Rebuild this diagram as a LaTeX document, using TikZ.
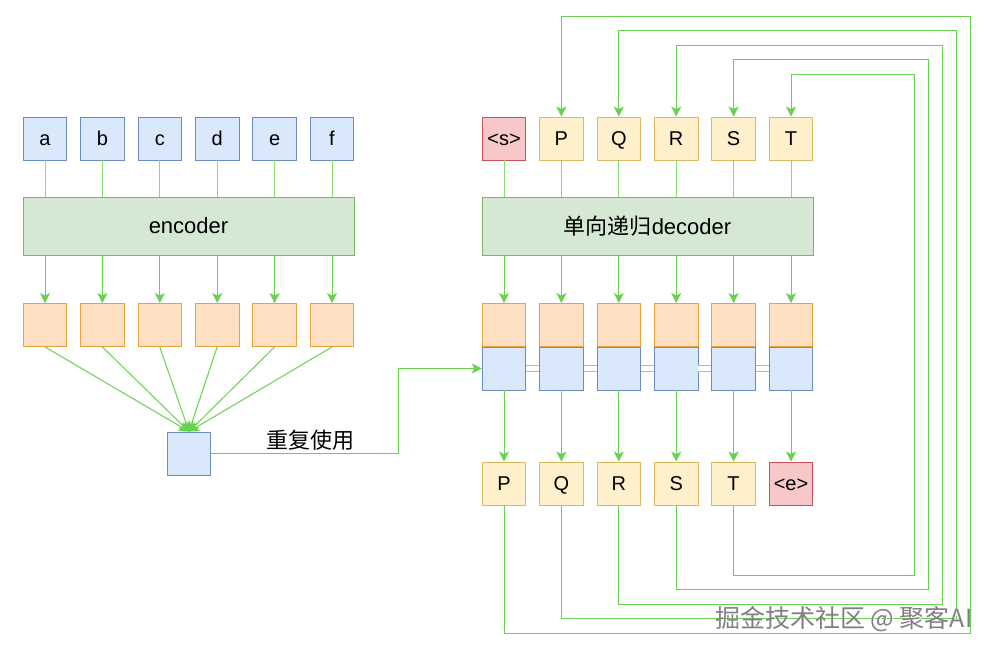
\documentclass[tikz,border=0pt]{standalone}
\usepackage{fontspec}
\setmainfont{Liberation Sans}
\newfontfamily\cjk{Noto Sans CJK SC}
\usetikzlibrary{arrows.meta}
\definecolor{lnk}{HTML}{66D24E}
\definecolor{lnkl}{HTML}{88DA76}
\definecolor{bluef}{HTML}{DAE8FC}\definecolor{blued}{HTML}{6C8EBF}
\definecolor{oraf}{HTML}{FFE0C2}\definecolor{orad}{HTML}{E8A33A}
\definecolor{yelf}{HTML}{FFF0CC}\definecolor{yeld}{HTML}{E0B860}
\definecolor{redf}{HTML}{F8C8C8}\definecolor{redd}{HTML}{D0505A}
\definecolor{grnf}{HTML}{D5E8D4}\definecolor{grnd}{HTML}{82B366}
\begin{document}
\begin{tikzpicture}[x=1pt,y=-1pt,
  box/.style={draw, line width=0.9pt, minimum width=43.5pt, minimum height=43pt, inner sep=0pt, text height=14.3pt, text depth=0pt, font=\fontsize{20}{22}\selectfont},
  bluebox/.style={box, fill=bluef, draw=blued},
  orabox/.style={box, fill=oraf, draw=orad},
  yelbox/.style={box, fill=yelf, draw=yeld},
  redbox/.style={box, fill=redf, draw=redd},
  grnbox/.style={draw=grnd, fill=grnf, line width=0.9pt, minimum width=331pt, minimum height=58pt, inner sep=0pt, font=\fontsize{22}{24}\selectfont},
  plain/.style={draw=lnkl, line width=1pt},
  arr/.style={draw=lnk, line width=1pt, -{Stealth[length=10pt,width=10pt,inset=2.5pt]}},
  dbl/.style={draw=lnkl, line width=0.9pt, double=white, double distance=4.5pt},
  lbl/.style={font=\fontsize{22}{24}\selectfont\cjk}
]
\useasboundingbox (0,0) rectangle (994,651);

% ---------- encoder side ----------
\node[grnbox] (enc) at (188.5,226) {encoder};
\foreach \t [count=\i from 0] in {a,b,c,d,e,f} {
  \node[bluebox] (in\i) at ({45+57.4*\i},138.5) {\t};
  \node[orabox] (eo\i) at ({45+57.4*\i},325) {};
}
\node[bluebox] (hb) at (189,453.5) {};
\foreach \i in {0,...,5} {
  \draw[plain] (in\i.south) -- (in\i.south |- enc.north);
  \draw[arr] (in\i.south |- enc.south) -- (eo\i.north);
  \draw[arr] (eo\i.south) -- (hb.north);
}
\node[lbl] (reuse) at (310,440) {重复使用};

% ---------- decoder side ----------
\node[grnbox] (dec) at (647.5,226) {{\cjk 单向递归}decoder};
\node[redbox] (t0) at (504,138.5) {<s>};
\foreach \t [count=\i from 1] in {P,Q,R,S,T} {
  \node[yelbox] (t\i) at ({504+57.4*\i},138.5) {\t};
}
\foreach \t [count=\i from 0] in {P,Q,R,S,T} {
  \node[yelbox] (o\i) at ({504+57.4*\i},483.5) {\t};
}
\node[redbox] (o5) at ({504+57.4*5},483.5) {<e>};
\foreach \i in {0,...,5} {
  \node[orabox] (so\i) at ({504+57.4*\i},325) {};
  \node[bluebox] (sb\i) at ({504+57.4*\i},368.5) {};
}
\foreach \i [evaluate=\i as \j using int(\i+1)] in {0,...,4} {
  \draw[dbl] (sb\i.east) -- (sb\j.west);
}
\foreach \i in {0,...,5} {
  \draw[plain] (t\i.south) -- (t\i.south |- dec.north);
  \draw[arr] (t\i.south |- dec.south) -- (so\i.north);
  \draw[arr] (sb\i.south) -- (o\i.north);
}
% link encoder summary -> decoder state
\coordinate (mid) at (398,0);
\draw[arr] (hb.east) -- (hb.east -| mid) -- (sb0.west -| mid) -- (sb0.west);

% ---------- feedback loops ----------
\foreach \i [evaluate=\i as \j using int(\i+1),
             evaluate=\i as \yb using 633-14.5*\i,
             evaluate=\i as \xr using 970-14*\i,
             evaluate=\i as \yt using 16+14.5*\i] in {0,...,4} {
  \draw[arr] (o\i.south) -- (o\i.south |- 0,\yb) -- (\xr,\yb) -- (\xr,\yt)
     -- (t\j.north |- 0,\yt) -- (t\j.north);
}

% ---------- watermark ----------
\node[anchor=east, font=\fontsize{25}{27}\selectfont\cjk, text=white] (wm0) at (976.8,619.8) {掘金技术社区 @ 聚客AI};
\node[anchor=east, font=\fontsize{25}{27}\selectfont\cjk, text=black!50] (wm) at (976,619) {掘金技术社区 @ 聚客AI};
\end{tikzpicture}
\end{document}
